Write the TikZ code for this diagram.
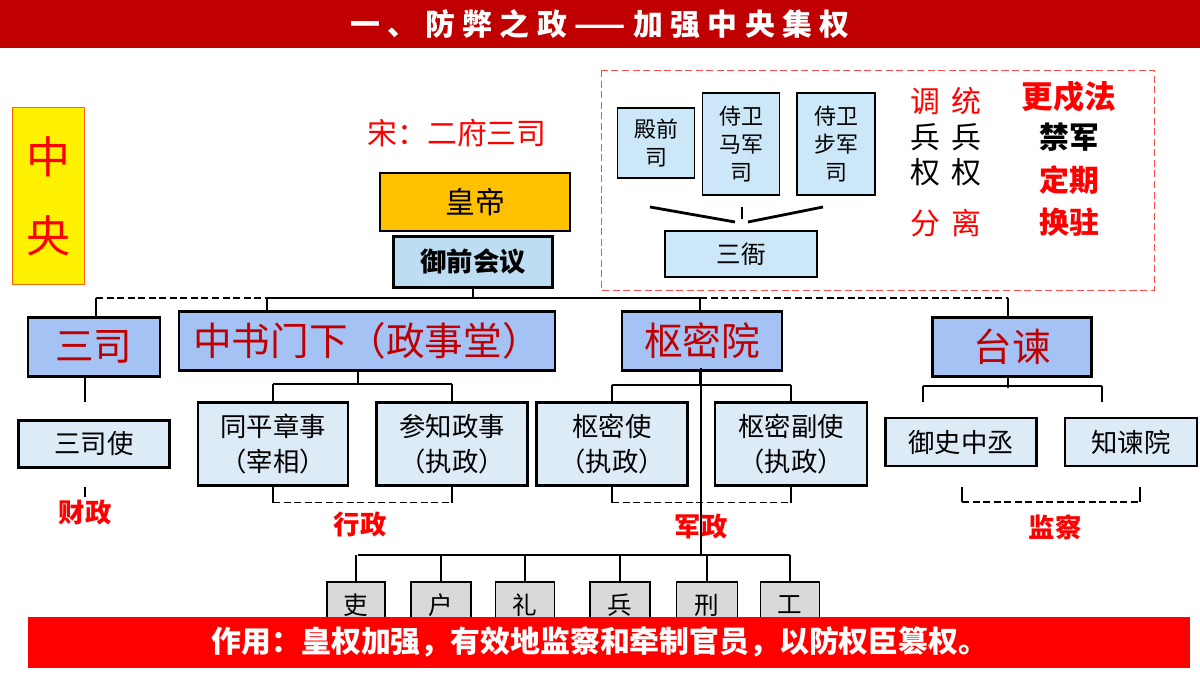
\documentclass[tikz,border=0pt]{standalone}
\usepackage{fontspec}
\setmainfont{Noto Sans CJK SC}
\usetikzlibrary{positioning,calc}
\definecolor{titlered}{HTML}{C00000}
\definecolor{barred}{HTML}{FF0000}
\definecolor{hanred}{HTML}{C00000}
\definecolor{headblue}{HTML}{A4C2F4}
\definecolor{paleblue}{HTML}{DDEBF7}
\definecolor{meetblue}{HTML}{BDDDF3}
\definecolor{weiblue}{HTML}{CCE8F8}
\definecolor{emperor}{HTML}{FFC000}
\definecolor{graybox}{HTML}{D9D9D9}
\tikzset{
  head/.style={draw=black, line width=1.4pt, fill=headblue, text=hanred, inner sep=0pt, font=\fontsize{22}{24}\selectfont},
  sub/.style={draw=black, line width=1.2pt, fill=paleblue, inner sep=0pt, align=center, font=\fontsize{15}{20}\selectfont},
  wei/.style={draw=black, line width=1.1pt, fill=weiblue, inner sep=0pt, align=center, font=\fontsize{12.5}{16}\selectfont},
  dept/.style={draw=black, line width=1.1pt, fill=graybox, inner sep=0pt, font=\fontsize{14}{16}\selectfont},
  link/.style={line width=1pt},
  dlink/.style={line width=1pt, dash pattern=on 4pt off 2pt},
  tag/.style={text=red, font=\bfseries\fontsize{15}{16}\selectfont},
}
\begin{document}
\begin{tikzpicture}[x=0.02cm, y=-0.02cm]
        \useasboundingbox (0,0) rectangle (1200,675);
        % Title bar
        \fill[titlered] (0,0) rectangle (1200,48);
        \node[white, font=\bfseries\fontsize{17}{18}\selectfont\addfontfeature{LetterSpace=25}] (title) at (600,24) {一、防弊之政——加强中央集权};

        % Centre label
        \node[draw=orange!80!red, fill=yellow, minimum width=1.44cm, minimum height=3.54cm, inner sep=0pt,
              text=red, align=center, font=\fontsize{25}{45}\selectfont] (zy) at (48,196) {中\\央};
        \node[text=red, font=\fontsize{17}{18}\selectfont] (song) at (457,133) {宋：二府三司};

        % Emperor and council
        \node[draw=black, line width=1.2pt, fill=emperor, minimum width=3.8cm, minimum height=1.16cm, inner sep=0pt,
              font=\fontsize{17}{18}\selectfont] (hd) at (475,202) {皇帝};
        \node[draw=black, line width=1.2pt, fill=meetblue, minimum width=3.18cm, minimum height=1.02cm, inner sep=0pt,
              font=\bfseries\fontsize{15}{16}\selectfont] (yq) at (473,262) {御前会议};

        % Second level
        \node[head, minimum width=2.64cm, minimum height=1.18cm] (sansi) at (94,347) {三司};
        \node[head, minimum width=7.52cm, minimum height=1.18cm] (zs) at (367,341) {中书门下（政事堂）};
        \node[head, minimum width=3.2cm, minimum height=1.18cm] (smy) at (702,341) {枢密院};
        \node[head, minimum width=3.18cm, minimum height=1.18cm] (tj) at (1012,347) {台谏};

        % Top bar
        \coordinate (b1) at (96,298);
        \coordinate (b2) at (267,298);
        \coordinate (b3) at (700,298);
        \coordinate (b4) at (1008,298);
        \draw[link] (yq.south) -- (yq.south |- b2);
        \draw[link] (b2) -- (b3);
        \draw[dlink] (b1) -- (b2);
        \draw[dlink] (b3) -- (b4);
        \draw[link] (b1) -- (b1 |- sansi.north);
        \draw[link] (b2) -- (b2 |- zs.north);
        \draw[link] (b3) -- (b3 |- smy.north);
        \draw[link] (b4) -- (b4 |- tj.north);

        % Third level
        \node[sub, minimum width=3.02cm, minimum height=0.94cm] (ssy) at (94,444) {三司使};
        \node[sub, minimum width=3cm, minimum height=1.66cm] (tp) at (273,444) {同平章事\\（宰相）};
        \node[sub, minimum width=3.02cm, minimum height=1.66cm] (cz) at (452,444) {参知政事\\（执政）};
        \node[sub, minimum width=3.02cm, minimum height=1.66cm] (sms) at (612,444) {枢密使\\（执政）};
        \node[sub, minimum width=3.04cm, minimum height=1.66cm] (smf) at (791,444) {枢密副使\\（执政）};
        \node[sub, minimum width=3.02cm, minimum height=0.96cm] (ys) at (961,442) {御史中丞};
        \node[sub, minimum width=2.64cm, minimum height=0.96cm] (zj) at (1131,442) {知谏院};

        \draw[link] (85,376) coordinate (s1) -- ++(0,26);
        \draw[link] (358,371) -- (358,384) coordinate (z1);
        \draw[link] (z1 -| tp) -- (z1 -| cz);
        \draw[link] (z1 -| tp) -- (tp.north);
        \draw[link] (z1 -| cz) -- (cz.north);
        \draw[link] (smy.south) ++(-2,0) -- ++(0,13) coordinate (m1);
        \draw[link] (m1 -| sms) -- (m1 -| smf);
        \draw[link] (m1 -| sms) -- (sms.north);
        \draw[link] (m1 -| smf) -- (smf.north);
        \draw[link] (tj.south) ++(-4,0) -- ++(0,10) coordinate (t1);
        \draw[link] (923,386) -- (1102,386);
        \draw[link] (923,386) -- (923,402);
        \draw[link] (1102,386) -- (1102,402);

        % Dashed brackets
        \draw[link] (tp.south) -- ++(0,16) coordinate (x1);
        \draw[link] (cz.south) -- ++(0,16) coordinate (x2);
        \draw[dlink] (x1) -- (x2);
        \draw[link] (sms.south) -- ++(0,16) coordinate (x3);
        \draw[link] (smf.south) -- ++(0,16) coordinate (x4);
        \draw[dlink] (x3) -- (x4);
        \draw[link] (962,487) -- (962,502) coordinate (x5);
        \draw[link] (1140,487) -- (1140,502) coordinate (x6);
        \draw[dlink] (x5) -- (x6);
        \draw[link] (85,487) -- (85,497);

        \node[tag] (cai) at (85,513) {财政};
        \node[tag] (xz) at (360,525) {行政};
        \node[tag] (jz) at (701,527) {军政};
        \node[tag] (jc) at (1055,527) {监察};

        % Six ministries
        \node[dept, minimum width=1.16cm, minimum height=1.4cm] (li) at (356,617) {};
        \node[dept, minimum width=1.2cm, minimum height=1.4cm] (hu) at (441,617) {};
        \node[dept, minimum width=1.18cm, minimum height=1.4cm] (lii) at (525,617) {};
        \node[dept, minimum width=1.2cm, minimum height=1.4cm] (bing) at (620,617) {};
        \node[dept, minimum width=1.22cm, minimum height=1.4cm] (xing) at (707,617) {};
        \node[dept, minimum width=1.18cm, minimum height=1.4cm] (gong) at (790,617) {};
        \foreach \n/\t in {li/吏, hu/户, lii/礼, bing/兵, xing/刑, gong/工} {
          \node[font=\fontsize{14}{16}\selectfont] at ($(\n.north)+(0,24)$) {\t};
        }
        \coordinate (r1) at (358,555);
        \coordinate (r2) at (790,555);
        \draw[link] (r1) -- (r2);
        \foreach \n in {li, hu, lii, bing, xing, gong} {
          \draw[link] (\n.north |- r1) -- (\n.north);
        }
        \draw[link] (701,368) -- (701,555);

        % Bottom bar
        \fill[barred] (28,617) rectangle (1190,668);
        \node[white, font=\bfseries\fontsize{17}{18}\selectfont] (effect) at (600,642) {作用：皇权加强，有效地监察和牵制官员，以防权臣篡权。};

        % Three guards panel
        \draw[red!70, dash pattern=on 4pt off 2pt] (601,70) rectangle (1154,290);
        \node[wei, minimum width=1.54cm, minimum height=1.4cm] (dq) at (656,143) {殿前\\司};
        \node[wei, minimum width=1.54cm, minimum height=2.04cm] (mj) at (741,144) {侍卫\\马军\\司};
        \node[wei, minimum width=1.56cm, minimum height=2.04cm] (bj) at (836,144) {侍卫\\步军\\司};
        \node[wei, minimum width=3.04cm, minimum height=0.92cm, font=\fontsize{14}{16}\selectfont] (sy) at (741,254) {三衙};
        \draw[line width=1.6pt] (650,207) -- (735,222);
        \draw[line width=1.6pt] (742,207) -- (742,219);
        \draw[line width=1.6pt] (748,222) -- (823,207);

        \node[text=red, font=\fontsize{17}{18}\selectfont] (tiao) at (925,101) {调};
        \node[text=red, font=\fontsize{17}{18}\selectfont] (tong) at (966,101) {统};
        \node[font=\fontsize{17}{18}\selectfont] (b1x) at (925,137) {兵};
        \node[font=\fontsize{17}{18}\selectfont] (b2x) at (966,137) {兵};
        \node[font=\fontsize{17}{18}\selectfont] (q1x) at (925,172) {权};
        \node[font=\fontsize{17}{18}\selectfont] (q2x) at (966,172) {权};
        \node[text=red, font=\fontsize{17}{18}\selectfont] (fen) at (925,223) {分};
        \node[text=red, font=\fontsize{17}{18}\selectfont] (li2) at (966,223) {离};
        \node[text=red, font=\bfseries\fontsize{18}{20}\selectfont] (gsf) at (1069,97) {更戍法};
        \node[font=\bfseries\fontsize{17}{18}\selectfont] (jinjun) at (1069,137) {禁军};
        \node[text=red, font=\bfseries\fontsize{17}{18}\selectfont] (dingqi) at (1069,180) {定期};
        \node[text=red, font=\bfseries\fontsize{17}{18}\selectfont] (huanzhu) at (1069,222) {换驻};
\end{tikzpicture}
\end{document}
